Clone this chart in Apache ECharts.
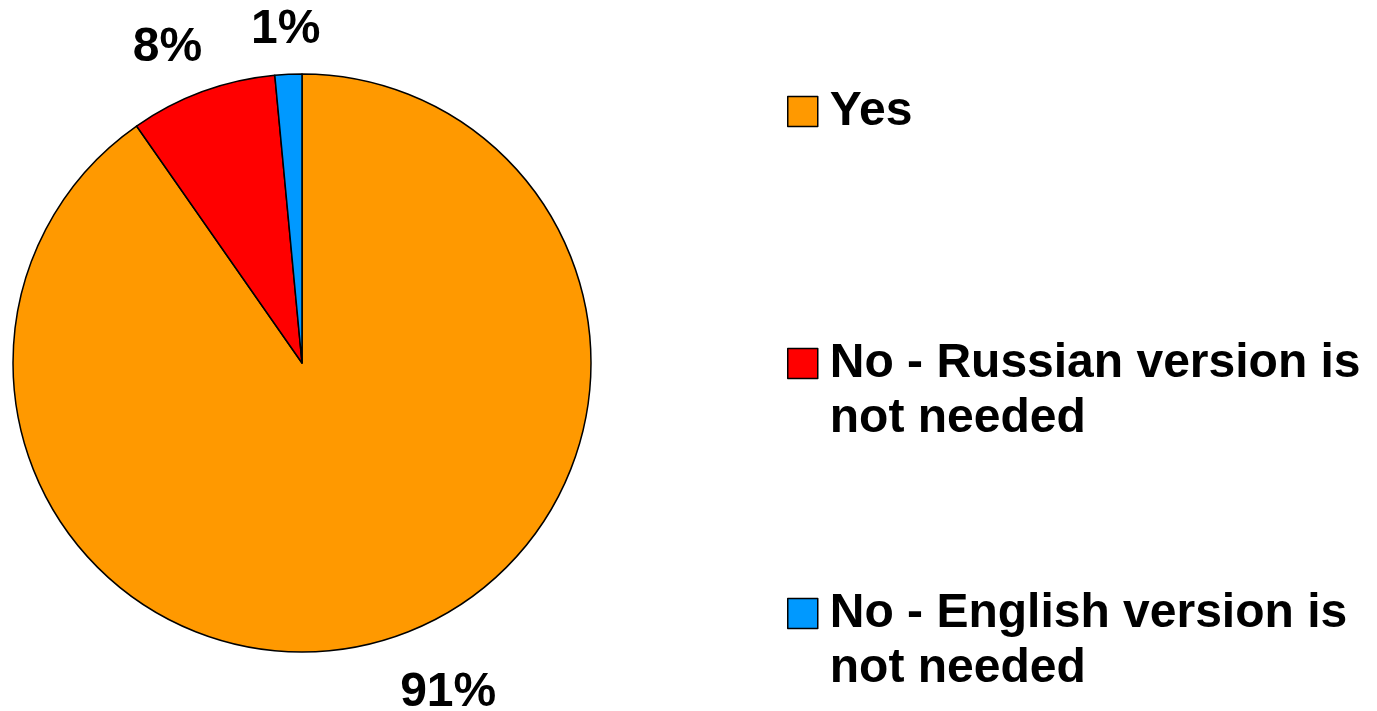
<!DOCTYPE html>
<html><head><meta charset="utf-8">
<script src="https://cdn.jsdelivr.net/npm/echarts@6/dist/echarts.min.js"></script>
<style>html,body{margin:0;padding:0;background:#fff}#c{width:1377px;height:711px}</style>
</head><body><div id="c"></div>
<script>
// ---- data ----
const categories = ['Yes', 'No - Russian version is\nnot needed', 'No - English version is\nnot needed'];
const values = [90.3, 8.2, 1.5];
const valueLabels = ['91%', '8%', '1%'];

// ---- styling / layout (not data) ----
const sliceColors = ['#FF9900', '#FF0000', '#0099FF'];
const labelShift = [[43, 2], [-16, 8], [0, 10]];
const FONT = 'Liberation Sans, Arial, Helvetica, sans-serif';

const chart = echarts.init(document.getElementById('c'), null, {renderer: 'canvas'});

function legendFor(i, top) {
  return {
    show: true,
    orient: 'vertical',
    left: 787,
    top: top,
    padding: 0,
    icon: 'rect',
    itemWidth: 30,
    itemHeight: 30,
    selectedMode: false,
    itemStyle: {borderColor: '#000', borderWidth: 1.5},
    formatter: name => (name.indexOf('\n') >= 0 ? '\n' + name : name),
    data: [{name: categories[i]}],
    textStyle: {
      fontFamily: FONT,
      fontWeight: 'bold',
      fontSize: 48,
      lineHeight: 55,
      color: '#000',
      padding: [0, 0, 0, 7]
    }
  };
}

const option = {
  backgroundColor: '#fff',
  animation: false,
  color: sliceColors,
  legend: [legendFor(0, 84), legendFor(1, 281), legendFor(2, 531)],
  series: [{
    type: 'pie',
    center: [302, 363],
    radius: 289,
    startAngle: 90,
    clockwise: true,
    avoidLabelOverlap: false,
    itemStyle: {borderColor: '#000', borderWidth: 1.5},
    emphasis: {disabled: true},
    label: {
      show: true,
      position: 'outside',
      distanceToLabelLine: 0,
      formatter: p => valueLabels[p.dataIndex],
      fontFamily: FONT,
      fontWeight: 'bold',
      fontSize: 48,
      color: '#000'
    },
    labelLine: {show: false, length: 55, length2: 0},
    labelLayout: function (p) {
      const s = labelShift[p.dataIndex];
      return {align: 'center', verticalAlign: 'middle', dx: s[0], dy: s[1]};
    },
    data: categories.map((c, i) => ({name: c, value: values[i]}))
  }]
};
chart.setOption(option);
</script>
</body></html>
